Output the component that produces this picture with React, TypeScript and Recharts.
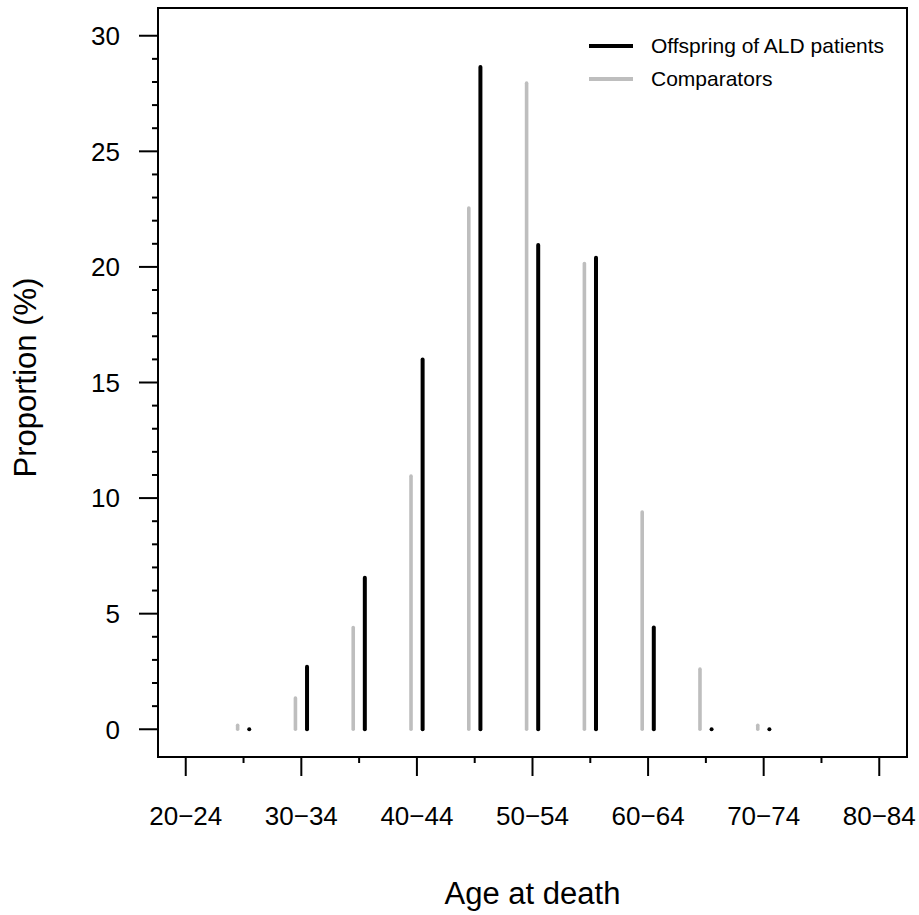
import React from 'react';
import { ComposedChart, Bar, XAxis, YAxis, ReferenceArea, Legend } from 'recharts';

const categories = ['20−24', '25−29', '30−34', '35−39', '40−44', '45−49', '50−54', '55−59', '60−64', '65−69', '70−74', '75−79', '80−84'];
const comparators: (number | null)[] = [null, 0.17, 1.35, 4.4, 10.95, 22.55, 27.95, 20.15, 9.4, 2.6, 0.17, null, null];
const offspring: (number | null)[] = [null, 0, 2.7, 6.55, 16.0, 28.65, 20.95, 20.4, 4.4, 0, 0, null, null];
const xTicks = [0, 1, 2, 3, 4, 5, 6, 7, 8, 9, 10, 11, 12];
const yTicks = [0, 1, 2, 3, 4, 5, 6, 7, 8, 9, 10, 11, 12, 13, 14, 15, 16, 17, 18, 19, 20, 21, 22, 23, 24, 25, 26, 27, 28, 29, 30];
const seriesNames = ['Offspring of ALD patients', 'Comparators'];

const BLACK = '#000000';
const GRAY = '#BEBEBE';
const FONT = '"Liberation Sans", Arial, Helvetica, sans-serif';

const data = categories.map((c, i) => ({ idx: i, label: c, comp: comparators[i], off: offspring[i] }));

const makeStem = (color: string, sw: number, key: 'comp' | 'off') => (props: any) => {
  const { x, y, width, height, payload } = props;
  if (!payload || payload[key] == null || x == null || y == null) return <g />;
  const cx = x + (width || 0) / 2;
  const y0 = y + (height || 0);
  if (Math.abs(height || 0) < 0.5) {
    return <circle cx={cx} cy={y0} r={sw / 2} fill={color} />;
  }
  return <line x1={cx} x2={cx} y1={y0} y2={y} stroke={color} strokeWidth={sw} strokeLinecap="round" />;
};

const XTick = (props: any) => {
  const { x, y, payload } = props;
  const i = payload.value;
  const major = i % 2 === 0;
  return (
    <g>
      <line x1={x} x2={x} y1={y} y2={y + (major ? 19 : 6)} stroke={BLACK} strokeWidth={2} />
      {major && (
        <text x={x} y={y + 68} textAnchor="middle" fontSize={26} fontFamily={FONT} fill={BLACK}>
          {categories[i]}
        </text>
      )}
    </g>
  );
};

const YTick = (props: any) => {
  const { x, y, payload } = props;
  const v = payload.value;
  const major = v % 5 === 0;
  return (
    <g>
      <line x1={x} x2={x - (major ? 19 : 6)} y1={y} y2={y} stroke={BLACK} strokeWidth={2} />
      {major && (
        <text x={x - 38} y={y} dy="0.36em" textAnchor="end" fontSize={26} fontFamily={FONT} fill={BLACK}>
          {v}
        </text>
      )}
    </g>
  );
};

const XTitle = (props: any) => {
  const vb = props.viewBox || {};
  return (
    <text x={vb.x + vb.width / 2} y={vb.y + 147} textAnchor="middle" fontSize={31} fontFamily={FONT} fill={BLACK}>
      Age at death
    </text>
  );
};

const YTitle = (props: any) => {
  const vb = props.viewBox || {};
  const cx = vb.x + 36;
  const cy = vb.y + vb.height / 2 - 5;
  return (
    <text x={cx} y={cy} transform={`rotate(-90, ${cx}, ${cy})`} textAnchor="middle" fontSize={31} fontFamily={FONT} fill={BLACK}>
      Proportion (%)
    </text>
  );
};

const LegendContent = () => (
  <div style={{ fontFamily: FONT, fontSize: 21, color: BLACK }}>
    {[{ name: seriesNames[0], color: BLACK, w: 4 }, { name: seriesNames[1], color: GRAY, w: 4 }].map((it) => (
      <div key={it.name} style={{ display: 'flex', alignItems: 'center', height: 33 }}>
        <svg width={44} height={8} style={{ display: 'block' }}>
          <line x1={0} x2={44} y1={4} y2={4} stroke={it.color} strokeWidth={it.w} />
        </svg>
        <span style={{ marginLeft: 18, whiteSpace: 'nowrap', lineHeight: '24px' }}>{it.name}</span>
      </div>
    ))}
  </div>
);

export default function App() {
  return (
    <div style={{ position: 'absolute', left: 0, top: 0, width: 919, height: 915, background: '#fff' }}>
      <ComposedChart width={919} height={915} data={data} margin={{ top: 8, right: 12, bottom: 0, left: 0 }} barGap={5.6}>
        <XAxis
          dataKey="idx"
          type="number"
          domain={[-0.48, 12.48]}
          allowDataOverflow
          ticks={xTicks}
          interval={0}
          height={158}
          tickSize={0}
          tickMargin={0}
          axisLine={false}
          tickLine={false}
          tick={<XTick />}
          label={<XTitle />}
        />
        <YAxis
          type="number"
          domain={[-1.2, 31.2]}
          allowDataOverflow
          ticks={yTicks}
          interval={0}
          width={158}
          tickSize={0}
          tickMargin={0}
          axisLine={false}
          tickLine={false}
          tick={<YTick />}
          label={<YTitle />}
        />
        <Bar dataKey="comp" name={seriesNames[1]} barSize={6} isAnimationActive={false} shape={makeStem(GRAY, 3.6, 'comp')} />
        <Bar dataKey="off" name={seriesNames[0]} barSize={6} isAnimationActive={false} shape={makeStem(BLACK, 4, 'off')} />
        <ReferenceArea x1={-0.48} x2={12.48} y1={-1.2} y2={31.2} fill="none" stroke={BLACK} strokeWidth={2} ifOverflow="visible" />
        <Legend
          layout="vertical"
          align="center"
          verticalAlign="middle"
          content={<LegendContent />}
          wrapperStyle={{ position: 'absolute', left: 589, top: 29, width: 320, height: 70 }}
        />
      </ComposedChart>
    </div>
  );
}
